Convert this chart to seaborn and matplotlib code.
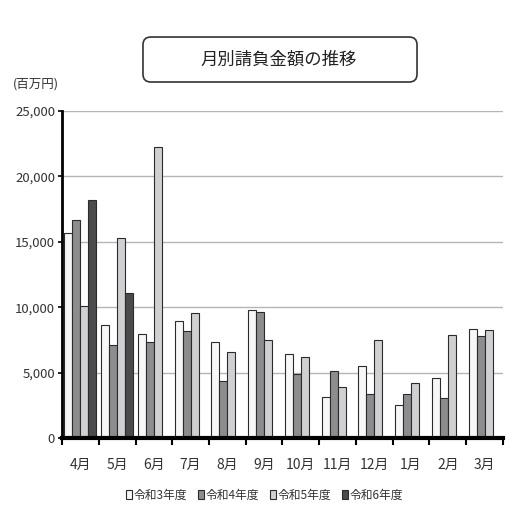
import numpy as np
import pandas as pd
import seaborn as sns
import matplotlib.pyplot as plt
from matplotlib.patches import FancyBboxPatch
from matplotlib.ticker import FuncFormatter, FixedLocator

months = ['4月', '5月', '6月', '7月', '8月', '9月', '10月', '11月', '12月', '1月', '2月', '3月']
years = ['令和3年度', '令和4年度', '令和5年度', '令和6年度']
r3 = [15700, 8670, 7950, 8950, 7340, 9800, 6400, 3150, 5500, 2550, 4570, 8330]
r4 = [16680, 7140, 7340, 8180, 4360, 9600, 4870, 5130, 3400, 3400, 3020, 7770]
r5 = [10100, 15320, 22250, 9560, 6570, 7460, 6220, 3910, 7510, 4190, 7870, 8220]
r6 = [18160, 11100, np.nan, np.nan, np.nan, np.nan, np.nan, np.nan, np.nan, np.nan, np.nan, np.nan]
colors = ['#f7f7f7', '#8d8d90', '#d0d0d2', '#4a4b4d']

df = pd.DataFrame({
    'month': months * 4,
    'year': [y for y in years for _ in months],
    'value': r3 + r4 + r5 + r6,
})

sns.set_style('white')
plt.rcParams['font.family'] = ['Noto Sans CJK JP', 'DejaVu Sans']

fig = plt.figure(figsize=(5.19, 5.20), dpi=100)
ax = fig.add_axes([0.1195, 0.1577, 0.8495, 0.6288])

sns.barplot(data=df, x='month', y='value', hue='year', order=months, hue_order=years,
            palette=colors, width=0.87, edgecolor='#2b2b2b', linewidth=0.8,
            errorbar=None, ax=ax)

ax.set_ylim(0, 25000)
ax.set_xlim(-0.5, 11.5)
ax.set_yticks(range(0, 25001, 5000))
ax.yaxis.set_major_formatter(FuncFormatter(lambda v, p: f'{v:,.0f}'))
ax.yaxis.grid(True, color='#b5b5b5', linewidth=1)
ax.set_axisbelow(True)
ax.set_xlabel('')
ax.set_ylabel('')

for s in ['top', 'right']:
    ax.spines[s].set_visible(False)
ax.spines['left'].set_linewidth(2)
ax.spines['left'].set_color('black')
ax.spines['bottom'].set_linewidth(3)
ax.spines['bottom'].set_color('black')

ax.tick_params(axis='y', left=True, length=3, width=1.2, colors='black', labelsize=9.5, pad=2)
ax.tick_params(axis='y', labelcolor='#333333')
ax.tick_params(axis='x', which='major', bottom=False, labelsize=10, pad=11, labelcolor='#333333')
ax.xaxis.set_minor_locator(FixedLocator(np.arange(-0.5, 12, 1)))
ax.tick_params(axis='x', which='minor', bottom=True, length=5, width=1.5, colors='black')

handles, labels = ax.get_legend_handles_labels()
ax.legend_.remove()
fig.legend(handles, labels, loc='center', bbox_to_anchor=(0.51, 0.048), ncol=4, frameon=False,
           fontsize=8.5, handlelength=0.5, handleheight=0.75, handletextpad=0.15,
           columnspacing=0.9, labelcolor='#333333')

box = FancyBboxPatch((0.2755, 0.8423), 0.528, 0.0865, boxstyle='round,pad=0,rounding_size=0.015',
                     transform=fig.transFigure, facecolor='white', edgecolor='#333333', linewidth=1.2)
fig.patches.append(box)
fig.text(0.5375, 0.885, '月別請負金額の推移', ha='center', va='center', fontsize=12.5, color='#222222')
fig.text(0.025, 0.838, '(百万円)', ha='left', va='center', fontsize=9, color='#333333')

fig.savefig('out.png', dpi=100)
